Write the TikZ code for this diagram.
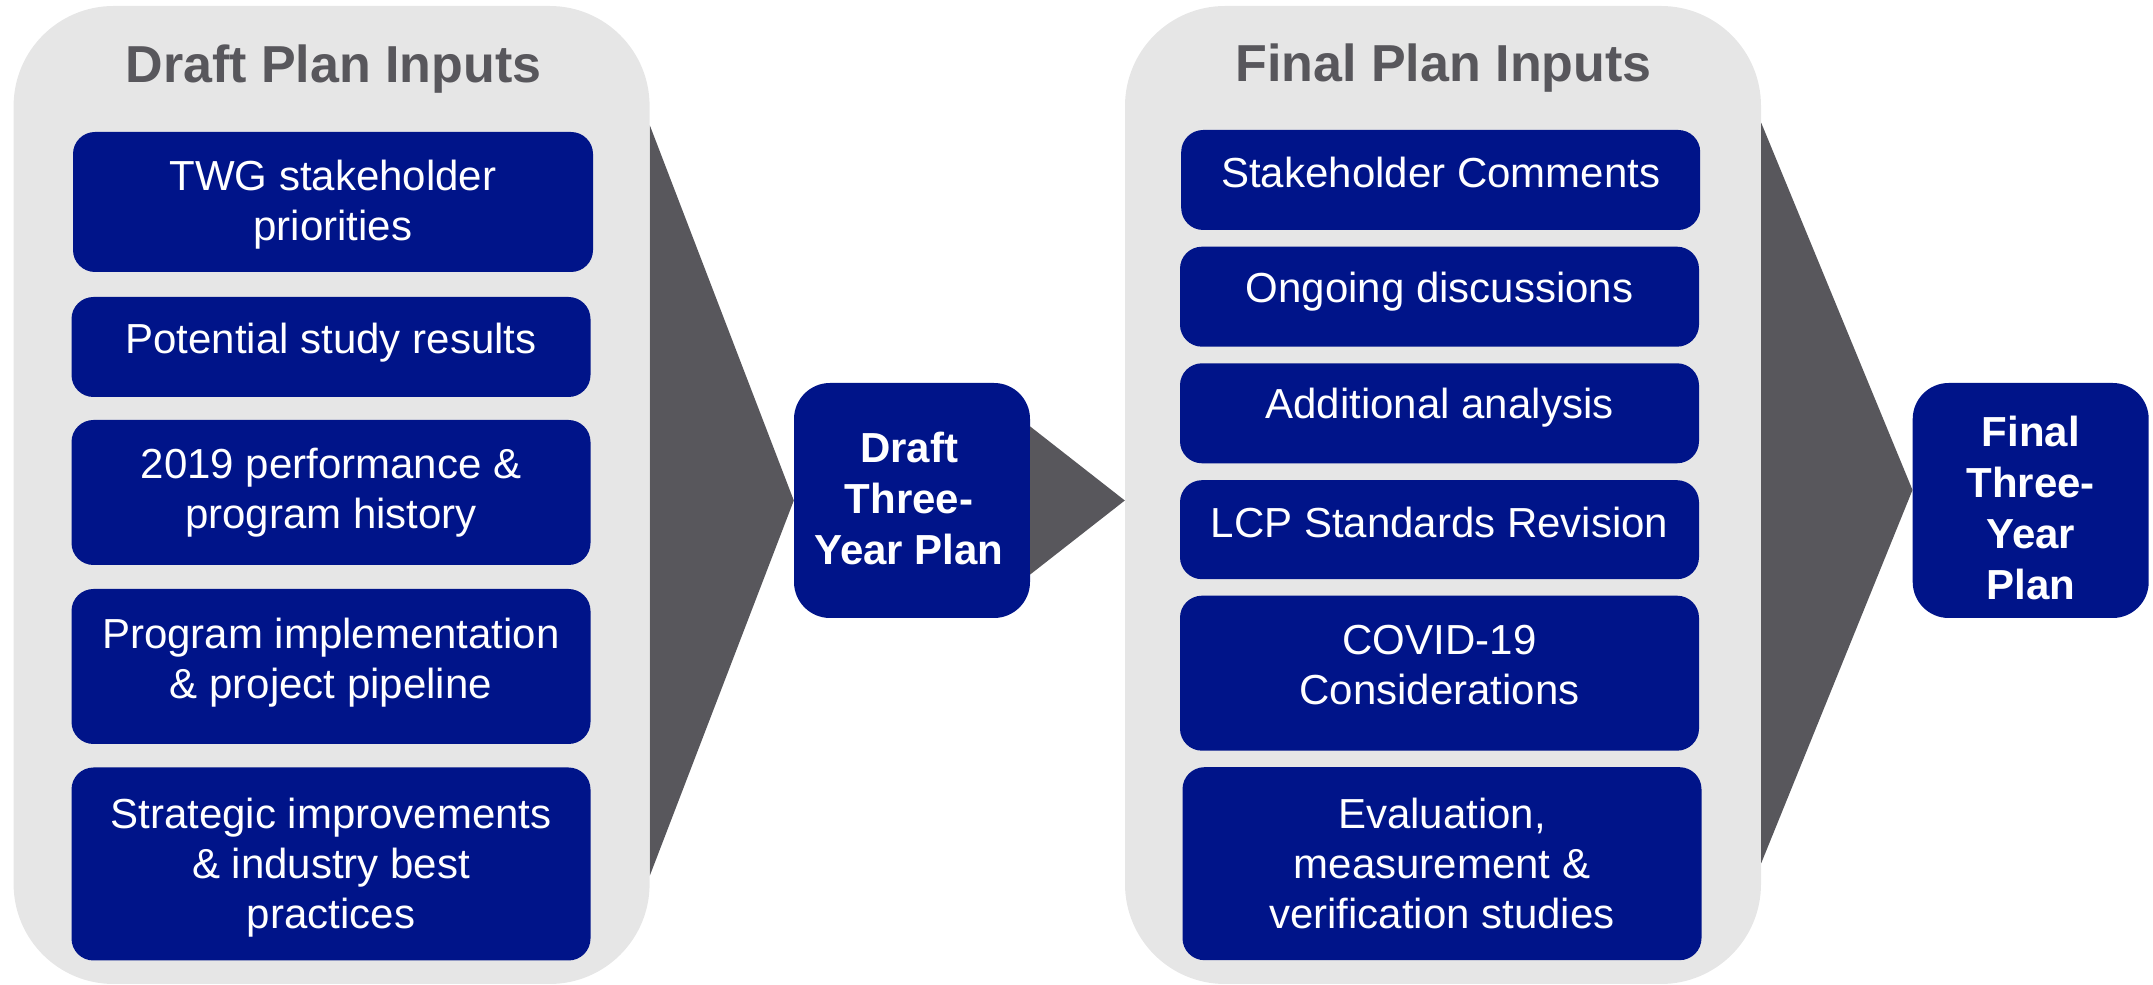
\documentclass[tikz,border=0pt]{standalone}
\usepackage{fontspec}
\setmainfont{Liberation Sans}
\usetikzlibrary{calc}
\definecolor{navy}{RGB}{0,20,137}
\definecolor{chevgrey}{RGB}{88,87,92}
\definecolor{panelgrey}{RGB}{230,230,230}
\begin{document}
\begin{tikzpicture}[x=1pt,y=1pt,
 panel/.style={fill=panelgrey, rounded corners=100pt, minimum width=636pt, minimum height=978pt, inner sep=0pt},
 inbox/.style={fill=navy, rounded corners=22pt, inner sep=0pt, minimum width=519pt},
 intext/.style={text=white, font=\fontsize{42}{50}\selectfont, align=center, anchor=north, inner sep=0pt},
 planbox/.style={fill=navy, rounded corners=36pt, minimum width=236pt, minimum height=235pt, inner sep=0pt},
 plantext/.style={text=white, font=\fontsize{42}{51}\selectfont\bfseries, align=center, anchor=north, inner sep=0pt},
 paneltitle/.style={text=chevgrey, font=\fontsize{52}{60}\selectfont\bfseries, anchor=base, inner sep=0pt},
 chevron/.style={fill=chevgrey}]
\useasboundingbox (0,0) rectangle (2153,985);

% panels
\node[panel] (dpi) at (331.6,490) {};
\node[panel] (fpi) at (1443,490) {};

% plan boxes
\node[planbox] (draft) at (912,484.5) {};
\node[planbox] (fin) at (2030.7,484.5) {};

% chevrons
\fill[chevron] ($(dpi.north east)+(0,-119.5)$) -- (draft.west) -- ($(dpi.south east)+(0,108.5)$) -- cycle;
\fill[chevron] ($(draft.east)+(0,74)$) -- ($(fpi.west)+(0,-5.5)$) -- ($(draft.east)+(0,-74)$) -- cycle;
\fill[chevron] ($(fpi.north east)+(0,-117)$) -- ($(fin.west)+(0,10.5)$) -- ($(fpi.south east)+(0,121)$) -- cycle;

% titles
\node[paneltitle] (dptitle) at (333.5,902) {Draft Plan Inputs};
\node[paneltitle] (fptitle) at (1443.5,903) {Final Plan Inputs};

% draft inputs
\node[inbox, minimum width=520pt, minimum height=140pt] (b1) at (333,783) {};
\node[intext] (b1t) at (333,825) {TWG stakeholder\\priorities};
\node[inbox, minimum height=100pt] (b2) at (331,638) {};
\node[intext] (b2t) at (331,661.7) {Potential study results};
\node[inbox, minimum height=145pt] (b3) at (331,492.5) {};
\node[intext] (b3t) at (331,537) {2019 performance \&\\program history};
\node[inbox, minimum height=155pt] (b4) at (331,318.5) {};
\node[intext] (b4t) at (331,366.7) {Program implementation\\\& project pipeline};
\node[inbox, minimum height=193pt] (b5) at (331,121) {};
\node[intext] (b5t) at (331,186.7) {Strategic improvements\\\& industry best\\practices};

% final inputs
\node[inbox, minimum height=100pt] (s1) at (1440.7,805) {};
\node[intext] (s1t) at (1440.7,828.3) {Stakeholder Comments};
\node[inbox, minimum height=100pt] (s2) at (1439.5,688.3) {};
\node[intext] (s2t) at (1439.5,713.3) {Ongoing discussions};
\node[inbox, minimum height=100pt] (s3) at (1439.5,571.7) {};
\node[intext] (s3t) at (1439.5,597) {Additional analysis};
\node[inbox, minimum height=99pt] (s4) at (1439.5,455.3) {};
\node[intext] (s4t) at (1439.5,478.3) {LCP Standards Revision};
\node[inbox, minimum height=155pt] (s5) at (1439.5,311.8) {};
\node[intext] (s5t) at (1439.5,360) {COVID-19\\Considerations};
\node[inbox, minimum height=193pt] (s6) at (1442,121.3) {};
\node[intext] (s6t) at (1442,187.3) {Evaluation,\\measurement \&\\verification studies};

% plan texts
\node[plantext] (draftt) at (909,553.4) {Draft\\Three-\\Year Plan};
\node[plantext] (fint) at (2030.7,569) {Final\\Three-\\Year\\Plan};
\end{tikzpicture}
\end{document}
